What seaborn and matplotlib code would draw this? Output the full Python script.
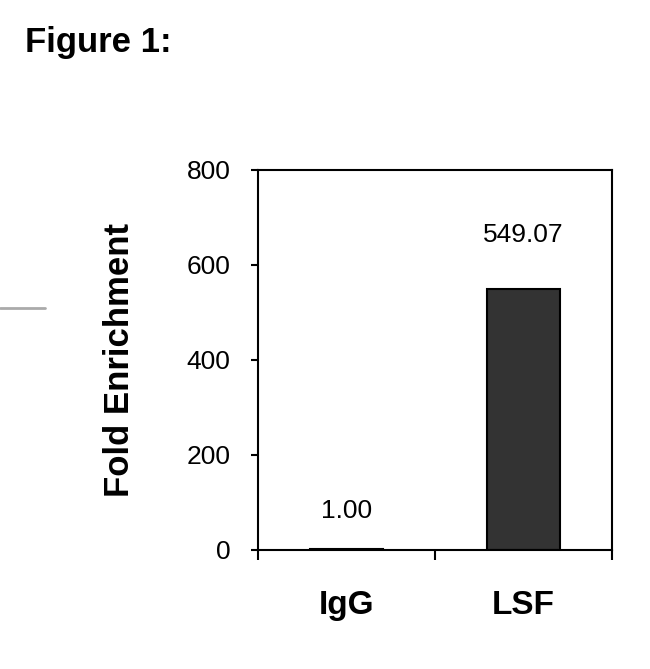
import matplotlib
matplotlib.use("Agg")
import matplotlib.pyplot as plt
from matplotlib.lines import Line2D
from matplotlib.ticker import FixedLocator
import seaborn as sns

categories = ["IgG", "LSF"]
fold_enrichment = [1.00, 549.07]
value_labels = ["1.00", "549.07"]
y_ticks = [0, 200, 400, 600, 800]

sns.set_style("white")
plt.rcParams["font.family"] = ["Liberation Sans", "DejaVu Sans"]
plt.rcParams.update({
    "text.color": "black",
    "axes.labelcolor": "black",
    "xtick.color": "black",
    "ytick.color": "black",
})

fig = plt.figure(figsize=(6.5, 6.69), dpi=100)
ax = fig.add_axes([0.397, 0.178, 0.5445, 0.568])

sns.barplot(
    x=categories,
    y=fold_enrichment,
    ax=ax,
    color="#333333",
    saturation=1,
    width=0.41,
    edgecolor="black",
    linewidth=1.5,
)

# value labels above bars
label_offsets = [19, 30]
for patch, text, off in zip(ax.patches, value_labels, label_offsets):
    ax.annotate(
        text,
        (patch.get_x() + patch.get_width() / 2, patch.get_height()),
        xytext=(0, off),
        textcoords="offset points",
        ha="center",
        va="bottom",
        fontsize=19,
    )

ax.set_ylim(0, 800)
ax.set_xlim(-0.5, 1.5)
ax.set_yticks(y_ticks)
ax.tick_params(axis="y", direction="out", length=5, width=1.5, pad=15,
               labelsize=19, left=True)
ax.tick_params(axis="x", which="major", length=0, pad=29, labelsize=24)
for lab in ax.get_xticklabels():
    lab.set_fontweight("bold")
ax.xaxis.set_minor_locator(FixedLocator([-0.5, 0.5, 1.5]))
ax.tick_params(axis="x", which="minor", direction="out", length=7, width=1.5,
               bottom=True)

for side in ["left", "right", "top", "bottom"]:
    ax.spines[side].set_visible(True)
    ax.spines[side].set_color("black")
    ax.spines[side].set_linewidth(1.5)

ax.set_ylabel("Fold Enrichment", fontsize=25, fontweight="bold")
ax.yaxis.set_label_coords(-0.345, 0.5)
ax.set_xlabel("")

fig.text(25 / 650, 1 - 52 / 669, "Figure 1:", fontsize=25, fontweight="bold",
         ha="left", va="baseline")

fig.add_artist(Line2D([0, 45 / 650], [1 - 308 / 669, 1 - 308 / 669],
                      color="#aaaaaa", linewidth=2, transform=fig.transFigure))

fig.savefig("out.png", dpi=100, facecolor="white")
